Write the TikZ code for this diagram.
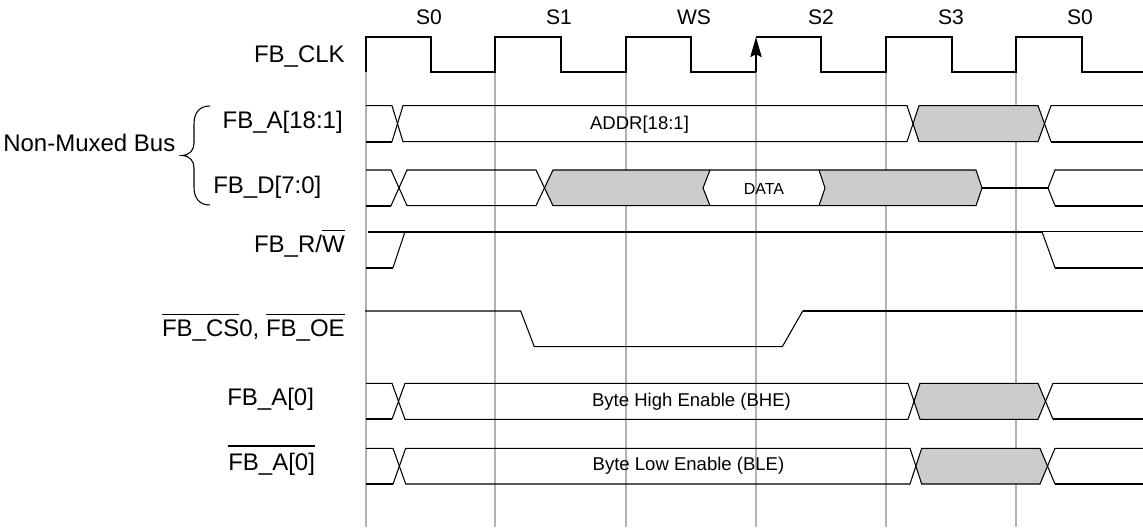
\documentclass[tikz,border=0pt]{standalone}
\usepackage{fontspec}
\setmainfont{Liberation Sans}
\usetikzlibrary{arrows.meta}
\newcommand\ovl[2][4pt]{\vbox{\hrule height 1.3pt\kern#1\hbox{#2}}}
\tikzset{
  gridline/.style={draw=black!30, line width=1.25pt},
  clk/.style={line width=1.7pt, line join=miter},
  thinsig/.style={line width=0.8pt, line join=miter},
  thicksig/.style={line width=1.7pt},
  busgray/.style={fill=black!20},
  lbl/.style={inner sep=0pt, font=\fontsize{18}{20}\selectfont},
  statelbl/.style={inner sep=0pt, font=\fontsize{15.8}{18}\selectfont},
  bustext/.style={inner sep=0pt, font=\fontsize{13.9}{16}\selectfont},
  datatext/.style={inner sep=0pt, font=\fontsize{12}{14}\selectfont},
}
\begin{document}
\begin{tikzpicture}[x=0.75pt,y=-0.75pt]
\useasboundingbox (0,0) rectangle (1143,529);

% grid lines
\foreach \gx in {366,495,626,756,886,1016}
  \draw[gridline] (\gx,72) -- (\gx,527);

% clock
\draw[clk] (366,72)--(366,37)--(431,37)--(431,72)--(495,72)--(495,37)--(561,37)--(561,72)
  --(626,72)--(626,37)--(691,37)--(691,72)--(756,72);
\draw[clk] (756,37)--(821,37)--(821,72)--(886,72)--(886,37)--(952,37)--(952,72)
  --(1016,72)--(1016,37)--(1082,37)--(1082,72)--(1143,72);
\draw[line width=1.3pt, -{Stealth[length=15pt,width=8.5pt,inset=2pt]}] (756,72) -- (756,37);

% state labels
\node[statelbl, anchor=base] (s0a) at (429,24) {S0};
\node[statelbl, anchor=base] (s1) at (559,24) {S1};
\node[statelbl, anchor=base] (ws) at (694,24) {WS};
\node[statelbl, anchor=base] (s2) at (821,24) {S2};
\node[statelbl, anchor=base] (s3) at (951,24) {S3};
\node[statelbl, anchor=base] (s0b) at (1080,24) {S0};

% signal labels
\node[lbl, anchor=base east] (lclk) at (345,62) {FB\_CLK};
\node[lbl, anchor=base east] (la) at (343,128.5) {FB\_A[18:1]};
\node[lbl, anchor=base west] (ld) at (213,193.5) {FB\_D[7:0]};
\node[lbl, anchor=base west] (lbus) at (3,151.7) {Non-Muxed Bus};
\node[lbl, anchor=base east] (lrw) at (345,252) {FB\_R/\ovl[3pt]{W}};
\node[lbl, anchor=base east] (lcs) at (345,336) {\ovl[3pt]{FB\_CS}0, \ovl[3pt]{FB\_OE}};
\node[lbl, anchor=base west] (la0) at (227,405) {FB\_A[0]};
\node[lbl, anchor=base west] (la0n) at (228,470.5) {\ovl[4.5pt]{FB\_A[0]}};

% brace
\draw[thinsig] (210,106) .. controls (200,106) and (194,112) .. (194,124) -- (194,143)
  .. controls (194,150) and (190,155) .. (182,155.5)
  .. controls (190,156) and (194,161) .. (194,168) -- (194,187)
  .. controls (194,199) and (200,205) .. (210,205);

% FB_A[18:1]
\fill[busgray] (913,123.7)--(919,105.7)--(1038,105.7)--(1044.5,123.7)--(1038,141.7)--(919,141.7)--cycle;
\draw[thinsig] (366,105.7)--(392,105.7)--(403,141.7)--(907,141.7)--(919,105.7)--(1038,105.7)--(1051,141.7);
\draw[thinsig] (392,141.7)--(403,105.7)--(907,105.7)--(919,141.7)--(1038,141.7)--(1051,105.7)--(1143,105.7);
\draw[thicksig] (366,141.7)--(392,141.7);
\draw[thicksig] (1051,141.7)--(1143,141.7);
\node[bustext, anchor=base] (addr) at (639.5,129.3) {ADDR[18:1]};

% FB_D[7:0]
\fill[busgray] (544.5,188)--(553,170)--(710,170)--(703,188)--(710,205.7)--(553,205.7)--cycle;
\fill[busgray] (819,170)--(976,170)--(982,188)--(976,205.7)--(819,205.7)--(825,188)--cycle;
\draw[thinsig] (366,170)--(391,170)--(407,205.7)--(536,205.7)--(553,170)--(976,170)--(982,188);
\draw[thinsig] (391,205.7)--(407,170)--(536,170)--(553,205.7)--(976,205.7)--(982,188);
\draw[thinsig] (710,170)--(703,188)--(710,205.7);
\draw[thinsig] (819,170)--(825,188)--(819,205.7);
\draw[thicksig] (366,205.7)--(391,205.7);
\draw[thicksig] (982,188)--(1048,188);
\draw[thinsig] (1143,170)--(1055,170)--(1048,188)--(1055,205.7);
\draw[thicksig] (1055,205.7)--(1143,205.7);
\node[datatext, anchor=base] (data) at (764,194.3) {DATA};

% FB_R/W
\draw[thicksig] (366,267.7)--(393,267.7);
\draw[thinsig] (393,267.7)--(405,231.7);
\draw[thicksig] (368,231.7)--(1042,231.7);
\draw[thinsig] (1042,231.7)--(1143,231.7);
\draw[thinsig] (1042,231.7)--(1055,267.7);
\draw[thicksig] (1055,267.7)--(1143,267.7);

% FB_CS0, FB_OE
\draw[thinsig] (365,311)--(520.7,311)--(534.3,346.7)--(782.3,346.7)--(802.7,311);
\draw[thicksig] (802.7,311)--(1143,311);

% FB_A[0]
\fill[busgray] (913,401.3)--(920,383.3)--(1038,383.3)--(1045.7,401.3)--(1038,419.3)--(920,419.3)--cycle;
\draw[thinsig] (366,383.3)--(392,383.3)--(405,419.3)--(908,419.3)--(920,383.3)--(1038,383.3)--(1053,419.3);
\draw[thinsig] (392,419.3)--(405,383.3)--(908,383.3)--(920,419.3)--(1038,419.3)--(1053,383.3)--(1143,383.3);
\draw[thicksig] (366,419.3)--(392,419.3);
\draw[thicksig] (1053,419.3)--(1143,419.3);
\node[bustext, anchor=base] (bhe) at (691.5,406.7) {Byte High Enable (BHE)};

% FB_A[0] negated
\fill[busgray] (915,466.2)--(921.7,448.3)--(1040,448.3)--(1047,466.2)--(1040,484)--(921.7,484)--cycle;
\draw[thinsig] (366,448.3)--(393,448.3)--(405.7,484)--(910,484)--(921.7,448.3)--(1040,448.3)--(1055,484);
\draw[thinsig] (393,484)--(405.7,448.3)--(910,448.3)--(921.7,484)--(1040,484)--(1055,448.3)--(1143,448.3);
\draw[thicksig] (366,484)--(393,484);
\draw[thicksig] (1055,484)--(1143,484);
\node[bustext, anchor=base] (ble) at (688.5,470) {Byte Low Enable (BLE)};
\end{tikzpicture}
\end{document}
